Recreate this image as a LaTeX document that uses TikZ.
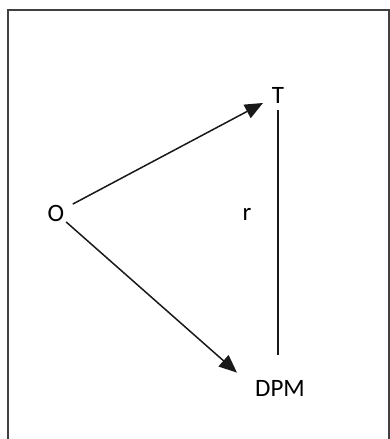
\documentclass[tikz,border=0pt]{standalone}
\usepackage{fontspec}
\setmainfont{Carlito}
\usetikzlibrary{arrows.meta}

\begin{document}
\begin{tikzpicture}[x=1pt, y=-1pt, font=\fontsize{25}{30}\selectfont,
    lbl/.style={inner sep=0pt, text=black},
    arr/.style={line width=1.5pt, black!90, -{Triangle[length=18pt, width=15pt]}},
    ln/.style={line width=1.5pt, black!90}]
    \useasboundingbox (0,0) rectangle (390,439);
    \clip (0,0) rectangle (390,439);
    \draw[line width=1.3pt, black!75] (8,10) rectangle (389,460);
    \node[lbl] (O) at (56,213) {O};
    \node[lbl] (T) at (278,95) {T};
    \node[lbl] (r) at (247,214) {r};
    \node[lbl] (DPM) at (280,388.5) {DPM};
    \draw[arr, shorten <=19pt, shorten >=17pt] (O.center) -- (T.center);
    \draw[arr, shorten <=13.5pt, shorten >=24pt] (O.center) -- (DPM.west);
    \draw[ln, shorten <=7pt, shorten >=25pt] (T.south) -- (T.south |- DPM.north);
\end{tikzpicture}
\end{document}
